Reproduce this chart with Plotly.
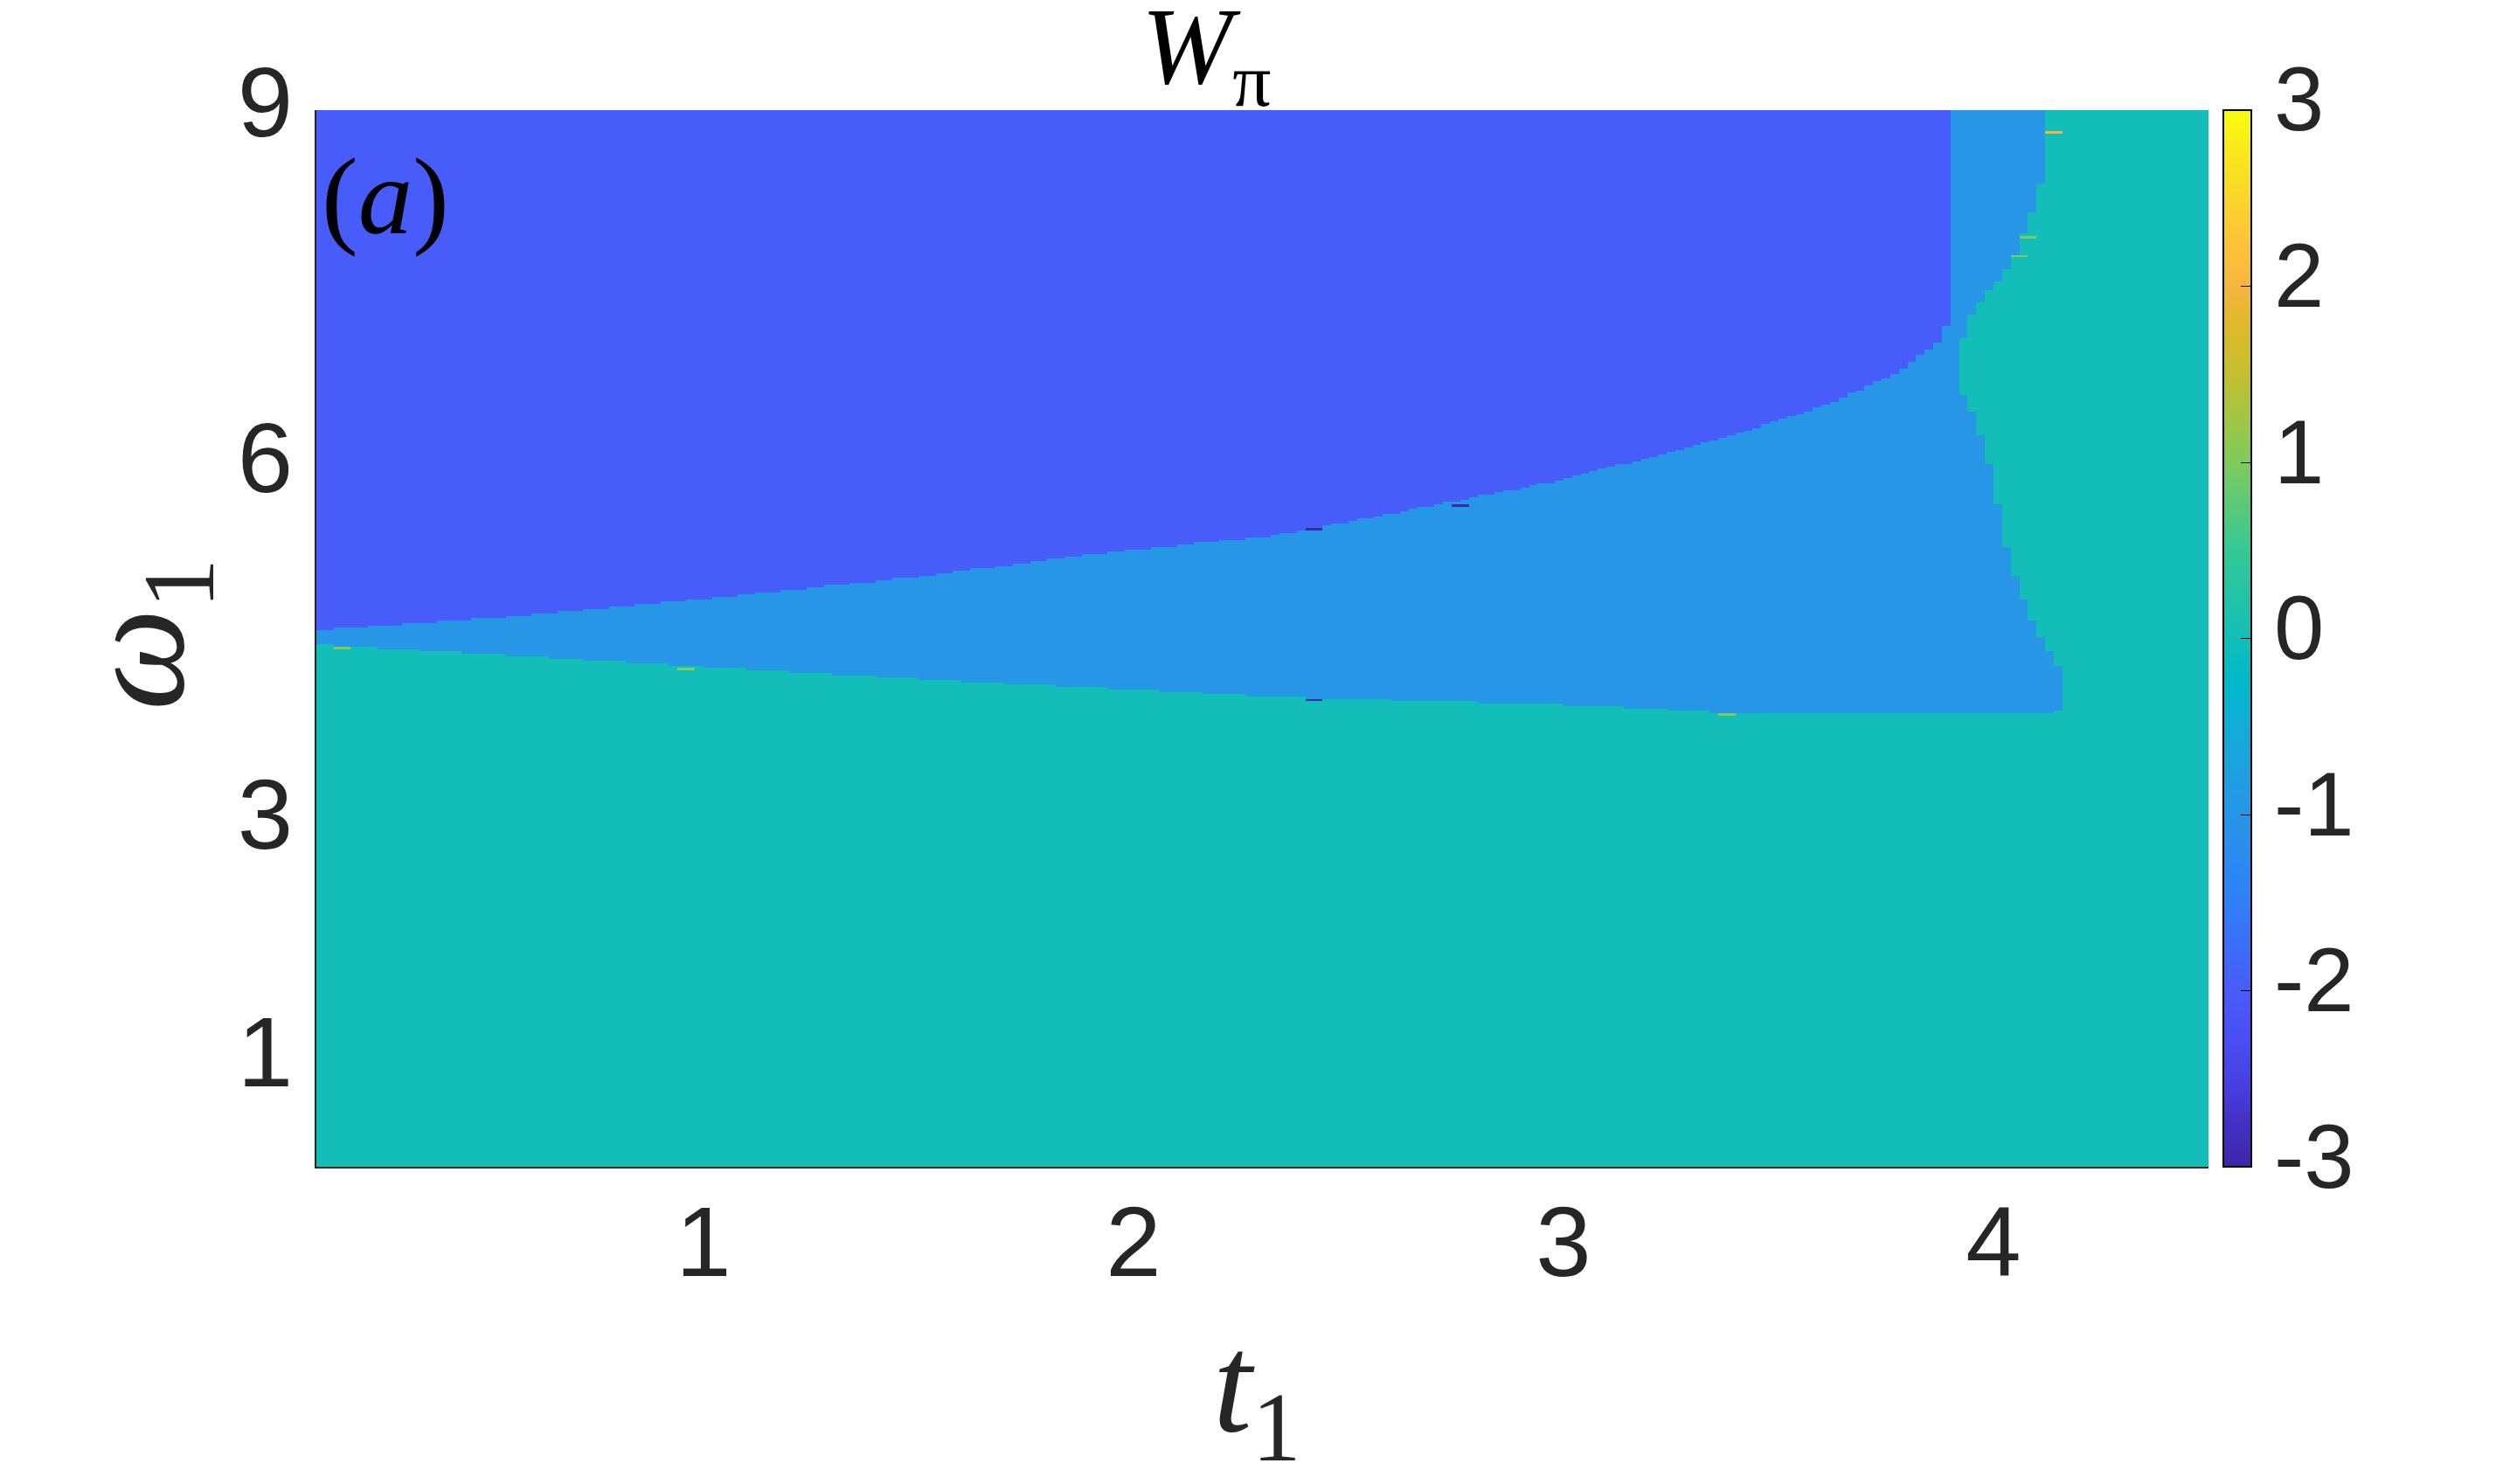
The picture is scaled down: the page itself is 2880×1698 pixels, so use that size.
import numpy as np
import plotly.graph_objects as go

# Phase diagram W_pi over (t1, omega1) -- boundaries

# lower border of the W=-1 region (below it W=0), as omega(t1)
lower_t = [0.10, 0.50, 0.96, 1.30, 1.65, 2.00, 2.31, 2.70, 3.10, 3.40, 3.80, 4.20]
lower_w = [4.50, 4.42, 4.32, 4.25, 4.18, 4.12, 4.06, 4.02, 3.98, 3.92, 3.91, 3.92]

# right edge of the W=-2 region, as t1(omega)
edge2_w = [4.62, 4.72, 4.91, 5.07, 5.27, 5.41, 5.58, 5.86, 6.20, 6.54, 6.82, 7.07, 7.38, 8.00, 9.00]
edge2_t = [0.10, 0.50, 1.07, 1.50, 1.93, 2.31, 2.57, 2.96, 3.34, 3.63, 3.79, 3.88, 3.91, 3.90, 3.89]

# right edge of the W=-1 region (W=0 beyond it), as t1(omega)
right_w = [3.91, 3.95, 4.09, 4.27, 4.62, 4.97, 5.32, 5.68, 6.03, 6.38, 6.60, 7.08, 7.22, 7.43, 7.71, 8.03, 8.38, 9.00]
right_t = [4.10, 4.16, 4.16, 4.16, 4.10, 4.06, 4.03, 4.01, 3.99, 3.96, 3.93, 3.93, 3.94, 3.98, 4.04, 4.08, 4.11, 4.13]

# a few odd cells along the borders
speck_t = [4.14, 4.08, 4.06, 0.16, 0.96, 2.42, 2.75, 3.37, 2.42]
speck_w = [8.82, 7.93, 7.77, 4.48, 4.29, 5.48, 5.68, 3.92, 4.04]
speck_v = [2.0, 1.0, 1.0, 1.0, 1.0, -3.0, -3.0, 1.0, -3.0]

cbar_ticks = [-3, -2, -1, 0, 1, 2, 3]
cbar_text = ["-3", "-2", "-1", "0", "1", "2", "3"]
x_ticks = [1, 2, 3, 4]
y_ticks = [1, 3, 6, 9]

# parula-like colour map
parula = [
    [0.000, "#3E26A8"], [0.042, "#4530C6"], [0.083, "#4741E4"], [0.125, "#4850F5"],
    [0.167, "#485CFA"], [0.250, "#2F7FF8"], [0.333, "#2796E6"], [0.417, "#12ACD8"],
    [0.460, "#00B9C9"], [0.500, "#13BEB8"], [0.583, "#34C896"], [0.667, "#7FCB5C"],
    [0.750, "#C4BF2F"], [0.800, "#DFB92B"], [0.833, "#F6B540"], [0.880, "#FEC537"],
    [0.917, "#F9D52A"], [1.000, "#F9FB0E"],
]

# grid of cells
step = 0.02
tx = np.arange(0.1 + step / 2, 4.5, step)
wy = np.arange(0.1 + step / 2, 9.0, step)
T, Wg = np.meshgrid(tx, wy)

low = np.interp(T, lower_t, lower_w)
e2 = np.interp(Wg, edge2_w, edge2_t, left=0.0)
rt = np.interp(Wg, right_w, right_t, left=0.0)

Z = np.full(T.shape, -1.0)
Z[T < e2] = -2.0
Z[Wg < low] = 0.0
Z[T > rt] = 0.0
for st, sw, sv in zip(speck_t, speck_w, speck_v):
    i = int(np.argmin(np.abs(wy - sw)))
    j = int(np.argmin(np.abs(tx - st)))
    Z[i, j:j + 2] = sv

dark = "#262626"
sans = "Liberation Sans"
serif = "Liberation Serif"

fig = go.Figure(go.Heatmap(
    x=tx, y=wy, z=Z, zmin=-3, zmax=3, zsmooth=False,
    colorscale=parula,
    colorbar=dict(
        x=1.0078, xanchor="left", y=0.5, yanchor="middle", len=1.0,
        thickness=32, thicknessmode="pixels",
        outlinecolor="black", outlinewidth=2,
        tickvals=cbar_ticks, ticks="inside", ticklen=13, tickcolor="black",
        showticklabels=False,
        ypad=0, xpad=0,
    ),
))

# page body adds 8px, so the margins are taken 8px smaller on top/left
fig.update_layout(
    width=2880, height=1698,
    margin=dict(l=354, r=361, t=118, b=371, autoexpand=False),
    paper_bgcolor="white", plot_bgcolor="white",
    showlegend=False,
)
fig.update_xaxes(
    range=[0.1, 4.5], tickvals=x_ticks, ticks="", showgrid=False, zeroline=False,
    showline=True, linecolor=dark, linewidth=2,
    tickfont=dict(family=sans, size=114, color=dark),
    ticklabelstandoff=-14,
)
fig.update_yaxes(
    range=[0.1, 9.0], tickvals=y_ticks, ticks="", showgrid=False, zeroline=False,
    showline=True, linecolor=dark, linewidth=2,
    tickfont=dict(family=sans, size=114, color=dark),
    ticklabelstandoff=2, ticklabelshift=-10,
)

# colour bar labels, placed at the tick values
for v, s in zip(cbar_ticks, cbar_text):
    fig.add_annotation(text=s, xref="paper", yref="paper",
                       x=1 + (2600 - 2527) / 2165, y=(v + 3) / 6 + 12 / 1209,
                       xanchor="left", yanchor="middle", showarrow=False,
                       font=dict(family=sans, size=103, color=dark))

fig.add_annotation(text="<i>W</i><sub>π</sub>", xref="paper", yref="paper",
                   x=(1380 - 362) / 2165, y=1 + (126 - 62) / 1209,
                   xanchor="center", yanchor="middle", showarrow=False,
                   font=dict(family=serif, size=125, color="black"))
fig.add_annotation(text="(<i>a</i>)", xref="paper", yref="paper",
                   x=(366 - 362) / 2165, y=1 - (225 - 126) / 1209,
                   xanchor="left", yanchor="middle", showarrow=False,
                   font=dict(family=serif, size=125, color="black"))
fig.add_annotation(text="<i>t</i><sub>1</sub>", xref="paper", yref="paper",
                   x=(1438 - 362) / 2165, y=-(1595 - 1336) / 1209,
                   xanchor="center", yanchor="middle", showarrow=False,
                   font=dict(family=serif, size=160, color=dark))
fig.add_annotation(text="<i>ω</i><sub>1</sub>", xref="paper", yref="paper",
                   x=-(362 - 165) / 2165, y=1 - (726 - 126) / 1209,
                   xanchor="center", yanchor="middle", showarrow=False, textangle=-90,
                   font=dict(family=serif, size=165, color=dark))

fig.write_html("out.html")
